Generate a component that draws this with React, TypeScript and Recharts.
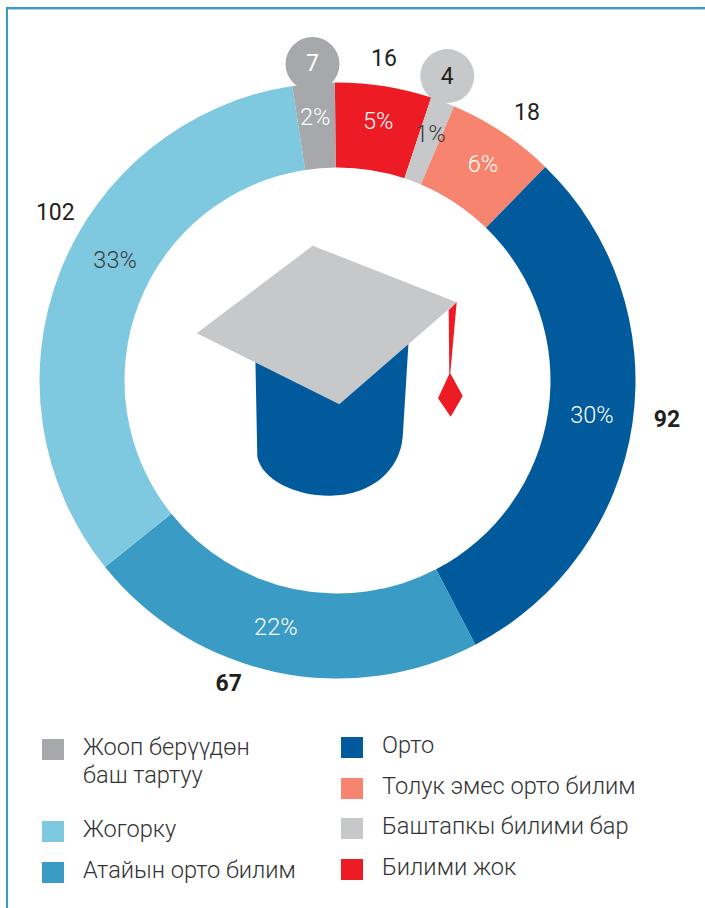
import { PieChart, Pie, Cell } from "recharts";

const categories = [
  "Билими жок",
  "Баштапкы билими бар",
  "Толук эмес орто билим",
  "Орто",
  "Атайын орто билим",
  "Жогорку",
  "Жооп берүүдөн баш тартуу",
];
const counts = [16, 4, 18, 92, 67, 102, 7];
const colors = ["#ed1c24", "#c7c8ca", "#f6846e", "#005a9c", "#3a9cc4", "#7fc9e0", "#a7a8ab"];

const data = categories.map((name, i) => ({ name, value: counts[i] }));

// label placement, hand tuned per slice: radius and angle shift from slice middle
const pctSpots = [
  { r: 262.6, shift: 0, fill: "#ffffff" },
  { r: 263.3, shift: 0, fill: "#3a3a3c" },
  { r: 260.8, shift: -0.3, fill: "#ffffff" },
  { r: 256.8, shift: 0.6, fill: "#ffffff" },
  { r: 254, shift: -2.2, fill: "#ffffff" },
  { r: 253, shift: -7.2, fill: "#3a3a3c" },
  { r: 264.5, shift: 0.2, fill: "#ffffff" },
];
const countSpots = [
  { r: 325.8, shift: 0.7, weight: 400, fill: "#231f20" },
  { r: 323.6, shift: 0.85, weight: 400, fill: "#231f20", pin: "#c7c8ca" },
  { r: 328.6, shift: -1.6, weight: 400, fill: "#231f20" },
  { r: 331.9, shift: 1.5, weight: 700, fill: "#231f20" },
  { r: 322, shift: -7.9, weight: 700, fill: "#231f20" },
  { r: 328.4, shift: -9.5, weight: 400, fill: "#231f20" },
  { r: 317.5, shift: -0.1, weight: 400, fill: "#ffffff", pin: "#a7a8ab" },
];

const legendLeft = [
  { name: "Жооп берүүдөн", more: "баш тартуу", color: "#a7a8ab", top: 739 },
  { name: "Жогорку", color: "#7fc9e0", top: 821 },
  { name: "Атайын орто билим", color: "#3a9cc4", top: 862 },
];
const legendRight = [
  { name: "Орто", color: "#005a9c", top: 737 },
  { name: "Толук эмес орто билим", color: "#f6846e", top: 778 },
  { name: "Баштапкы билими бар", color: "#c7c8ca", top: 818 },
  { name: "Билими жок", color: "#ed1c24", top: 859 },
];

const FONT = "Roboto, sans-serif";
const RAD = Math.PI / 180;

const renderLabel = (props: any) => {
  const { cx, cy, midAngle, percent, value, index } = props;
  const pct = pctSpots[index];
  const cnt = countSpots[index];
  const pa = (midAngle + pct.shift) * RAD;
  const ca = (midAngle + cnt.shift) * RAD;
  const cntX = cx + cnt.r * Math.cos(ca);
  const cntY = cy - cnt.r * Math.sin(ca);
  return (
    <g key={index}>
      {cnt.pin && <circle cx={cntX} cy={cntY} r={27} fill={cnt.pin} />}
      <text
        x={cx + pct.r * Math.cos(pa)}
        y={cy - pct.r * Math.sin(pa)}
        textAnchor="middle"
        dominantBaseline="central"
        fontFamily={FONT}
        fontWeight={300}
        fontSize={23.5}
        fill={pct.fill}
      >
        {Math.round(percent * 100)}%
      </text>
      <text
        x={cntX}
        y={cntY}
        textAnchor="middle"
        dominantBaseline="central"
        fontFamily={FONT}
        fontWeight={cnt.weight}
        fontSize={23}
        fill={cnt.fill}
      >
        {value}
      </text>
    </g>
  );
};

const LegendRow = ({ item, x }: { item: any; x: number }) => (
  <>
    <div style={{ position: "absolute", left: x, top: item.top, width: 22, height: 21, background: item.color }} />
    <div
      style={{
        position: "absolute",
        left: x + 41,
        top: item.top - 6,
        fontFamily: FONT,
        fontWeight: 300,
        fontSize: 23.6,
        lineHeight: "28px",
        color: "#333335",
        whiteSpace: "nowrap",
      }}
    >
      {item.name}
      {item.more && <br />}
      {item.more}
    </div>
  </>
);

export default function App() {
  return (
    <div style={{ position: "absolute", left: 0, top: 0, width: 705, height: 908, background: "#fff", overflow: "hidden" }}>
      <div style={{ position: "absolute", left: 6, top: 7, width: 699, height: 2, background: "#3a9cc4" }} />
      <div style={{ position: "absolute", left: 8, top: 9, width: 697, height: 1, background: "#a5dcef" }} />
      <div style={{ position: "absolute", left: 6, top: 7, width: 2, height: 901, background: "#3a9cc4" }} />
      <PieChart width={705} height={725} margin={{ top: 0, right: 0, bottom: 0, left: 0 }}>
        <Pie
          data={data}
          dataKey="value"
          nameKey="name"
          cx={337.5}
          cy={380.5}
          innerRadius={213}
          outerRadius={298}
          startAngle={90.5}
          endAngle={-269.5}
          stroke="none"
          label={renderLabel}
          labelLine={false}
          isAnimationActive={false}
        >
          {data.map((d, i) => (
            <Cell key={d.name} fill={colors[i]} />
          ))}
        </Pie>
        {/* graduation cap in the middle of the ring */}
        <path d="M255.3 355 L257.3 456.7 C262 480 296 496 330 495.7 C372 495 400 470 402.7 436.7 L408.7 340 Z" fill="#005a9c" />
        <path d="M312.7 245.7 L456.7 302.3 L339.3 404.3 L196.7 333.3 Z" fill="#c7c8ca" />
        <path d="M456.7 302.3 L448.7 310 L449.3 374 L438 398.3 L450.7 416.7 L462.7 396 L450.3 373.3 Z" fill="#ed1c24" />
      </PieChart>
      {legendLeft.map((item) => (
        <LegendRow key={item.name} item={item} x={42} />
      ))}
      {legendRight.map((item) => (
        <LegendRow key={item.name} item={item} x={341} />
      ))}
    </div>
  );
}
